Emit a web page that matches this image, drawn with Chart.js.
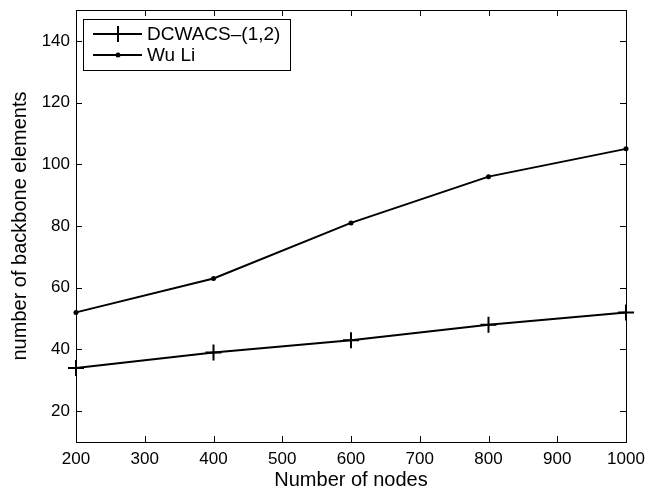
<!DOCTYPE html>
<html>
<head>
<meta charset="utf-8">
<script src="https://cdn.jsdelivr.net/npm/chart.js@4/dist/chart.umd.min.js"></script>
<style>
  html, body { margin: 0; padding: 0; background: #fff; }
  #wrap { width: 658px; height: 492px; }
</style>
</head>
<body>
<div id="wrap"><canvas id="chart" width="658" height="492"></canvas></div>
<script>
// data
const nodes = [200, 400, 600, 800, 1000];
const dcwacs = [34, 39, 43, 48, 52];
const wuLi = [52, 63, 81, 96, 105];
const xTicks = [200, 300, 400, 500, 600, 700, 800, 900, 1000];
const yTicks = [20, 40, 60, 80, 100, 120, 140];
const seriesNames = ['DCWACS\u2013(1,2)', 'Wu Li'];

const FONT = '"Liberation Sans", Arial, Helvetica, sans-serif';

// MATLAB style box with inward ticks + legend
const matlabFrame = {
    id: 'matlabFrame',
    afterDraw(chart) {
        const ctx = chart.ctx;
        const a = chart.chartArea;
        const xs = chart.scales.x, ys = chart.scales.y;
        ctx.save();
        ctx.strokeStyle = '#000';
        ctx.lineWidth = 1;
        ctx.strokeRect(a.left + 0.5, a.top + 0.5, a.right - a.left, a.bottom - a.top);
        ctx.beginPath();
        xTicks.forEach(v => {
            const px = Math.round(xs.getPixelForValue(v)) + 0.5;
            ctx.moveTo(px, a.bottom); ctx.lineTo(px, a.bottom - 6);
            ctx.moveTo(px, a.top); ctx.lineTo(px, a.top + 6);
        });
        yTicks.forEach(v => {
            const py = Math.round(ys.getPixelForValue(v)) + 0.5;
            ctx.moveTo(a.left, py); ctx.lineTo(a.left + 6, py);
            ctx.moveTo(a.right, py); ctx.lineTo(a.right - 6, py);
        });
        ctx.stroke();

        // legend box
        const lx = a.left + 7, ly = a.top + 9, lw = 207, lh = 51;
        ctx.fillStyle = '#fff';
        ctx.fillRect(lx, ly, lw, lh);
        ctx.strokeRect(lx + 0.5, ly + 0.5, lw, lh);
        ctx.font = '19px ' + FONT;
        ctx.textBaseline = 'middle';
        chart.data.datasets.forEach((ds, i) => {
            const y = ly + 15 + i * 21;
            ctx.beginPath();
            ctx.lineWidth = 2;
            ctx.moveTo(lx + 10, y); ctx.lineTo(lx + 59, y);
            ctx.stroke();
            const cx = lx + 35;
            if (ds.pointStyle === 'cross') {
                ctx.beginPath();
                ctx.moveTo(cx, y - 8); ctx.lineTo(cx, y + 8);
                ctx.stroke();
            } else {
                ctx.beginPath();
                ctx.fillStyle = '#000';
                ctx.arc(cx, y, 2.5, 0, Math.PI * 2);
                ctx.fill();
            }
            ctx.fillStyle = '#000';
            ctx.fillText(ds.label, lx + 64, y + 1);
        });
        ctx.restore();
    }
};

new Chart(document.getElementById('chart'), {
    type: 'line',
    data: {
        datasets: [
            {
                label: seriesNames[0],
                data: nodes.map((x, i) => ({ x: x, y: dcwacs[i] })),
                borderColor: '#000',
                backgroundColor: '#000',
                borderWidth: 2,
                pointStyle: 'cross',
                pointRadius: 8,
                pointBorderWidth: 2,
                tension: 0
            },
            {
                label: seriesNames[1],
                data: nodes.map((x, i) => ({ x: x, y: wuLi[i] })),
                borderColor: '#000',
                backgroundColor: '#000',
                borderWidth: 2,
                pointStyle: 'circle',
                pointRadius: 2.5,
                pointBorderWidth: 0,
                tension: 0
            }
        ]
    },
    options: {
        responsive: false,
        animation: false,
        clip: false,
        layout: { padding: { top: 8, right: 32, left: 0, bottom: 0 } },
        plugins: { legend: { display: false }, tooltip: { enabled: false } },
        scales: {
            x: {
                type: 'linear',
                min: 200,
                max: 1000,
                afterBuildTicks: s => { s.ticks = xTicks.map(v => ({ value: v })); },
                afterFit: s => { s.height = 50; s.paddingLeft = 0; s.paddingRight = 0; },
                grid: { display: false, drawTicks: false },
                border: { display: false },
                ticks: {
                    color: '#000',
                    padding: 7,
                    maxRotation: 0,
                    autoSkip: false,
                    callback: v => String(v),
                    font: { family: FONT, size: 17 }
                },
                title: {
                    display: true,
                    text: 'Number of nodes',
                    color: '#000',
                    padding: 0,
                    font: { family: FONT, size: 20 }
                }
            },
            y: {
                type: 'linear',
                min: 10,
                max: 150,
                afterBuildTicks: s => { s.ticks = yTicks.map(v => ({ value: v })); },
                afterFit: s => { s.width = 76; s.paddingTop = 0; s.paddingBottom = 0; },
                grid: { display: false, drawTicks: false },
                border: { display: false },
                ticks: {
                    color: '#000',
                    padding: 6,
                    autoSkip: false,
                    callback: v => String(v),
                    font: { family: FONT, size: 17 }
                },
                title: {
                    display: true,
                    text: 'number of backbone elements',
                    color: '#000',
                    padding: { top: 8, bottom: 0 },
                    font: { family: FONT, size: 20 }
                }
            }
        }
    },
    plugins: [matlabFrame]
});
</script>
</body>
</html>
